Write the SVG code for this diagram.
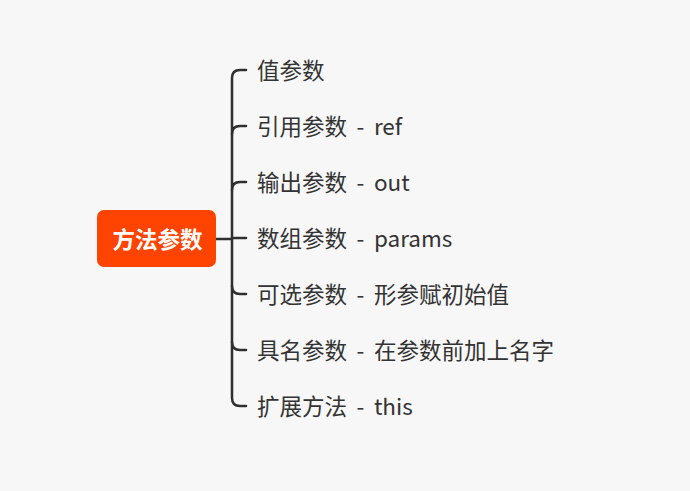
<svg xmlns="http://www.w3.org/2000/svg" width="690" height="491" viewBox="0 0 690 491">
<style>
.c{fill:none;stroke:#2f2f2f;stroke-width:2.5;stroke-linecap:round}
.t{font-family:"Noto Sans CJK SC","Noto Sans",sans-serif;font-size:22.5px;word-spacing:4.5px;fill:#333}
.r{font-family:"Noto Sans CJK SC","Noto Sans",sans-serif;font-size:22.5px;font-weight:bold;fill:#fff}
</style>
<rect width="690" height="491" fill="#f7f7f7"/>
<g id="connectors">
<path class="c" d="M216 239 H232"/>
<path class="c" d="M246 70 H240 Q232 70 232 78 V398 Q232 406 240 406 H246"/>
<path class="c" d="M232 134 Q232 126 240 126 H246"/>
<path class="c" d="M232 190 Q232 182 240 182 H246"/>
<path class="c" d="M232 238 H246"/>
<path class="c" d="M232 286 Q232 294 240 294 H246"/>
<path class="c" d="M232 342 Q232 350 240 350 H246"/>
</g>
<g id="root">
<rect x="97" y="210" width="119" height="57" rx="7" fill="#ff4300"/>
<text class="r" x="157.5" y="247.5" text-anchor="middle">方法参数</text>
</g>
<g id="n1"><text class="t" x="257" y="79">值参数</text></g>
<g id="n2"><text class="t" x="257" y="135">引用参数 - ref</text></g>
<g id="n3"><text class="t" x="257" y="191">输出参数 - out</text></g>
<g id="n4"><text class="t" x="257" y="247">数组参数 - params</text></g>
<g id="n5"><text class="t" x="257" y="303">可选参数 - 形参赋初始值</text></g>
<g id="n6"><text class="t" x="257" y="359">具名参数 - 在参数前加上名字</text></g>
<g id="n7"><text class="t" x="257" y="415">扩展方法 - this</text></g>
</svg>
